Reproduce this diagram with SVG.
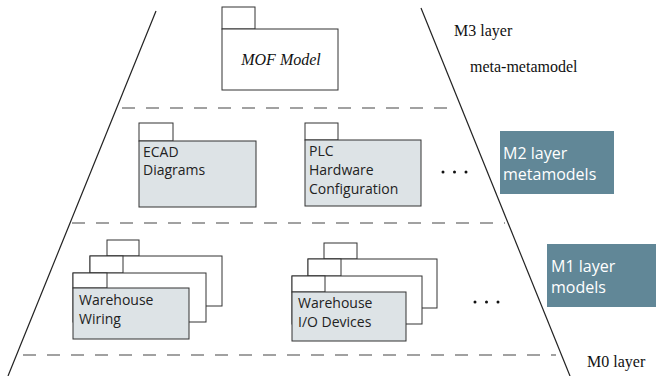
<svg xmlns="http://www.w3.org/2000/svg" width="656" height="376" viewBox="0 0 656 376">
<style>
.edge{stroke:#222;stroke-width:1.2;fill:none}
.dash{stroke:#444;stroke-width:1.2;stroke-dasharray:13 11;fill:none}
.pk{stroke:#333;stroke-width:1;fill:#fff}
.pg{stroke:#333;stroke-width:1;fill:#dde3e6}
.lbl{font-family:"Open Sans","Liberation Sans",sans-serif;font-size:14px;fill:#222}
.ser{font-family:"Liberation Serif","Times New Roman",serif;font-size:16px;fill:#111}
.tag{fill:#618797}
.tagt{font-family:"Open Sans","Liberation Sans",sans-serif;font-size:16px;fill:#fff}
.dot{fill:#111}
</style>
<rect width="656" height="376" fill="#fff"/>
<g id="connectors">
<line class="edge" x1="156" y1="11" x2="8" y2="376"/>
<line class="edge" x1="421" y1="8" x2="570" y2="376"/>
<line class="dash" x1="122" y1="108" x2="458" y2="108"/>
<line class="dash" x1="72" y1="223" x2="505" y2="223"/>
<line class="dash" x1="23" y1="355" x2="556" y2="355"/>
</g>
<g id="mof">
<rect class="pk" x="222" y="7" width="33" height="22"/>
<rect class="pk" x="222" y="29" width="116" height="61"/>
<text class="ser" x="281" y="65" text-anchor="middle" font-style="italic">MOF Model</text>
</g>
<g id="m3label">
<text class="ser" x="454" y="36">M3 layer</text>
<text class="ser" x="470" y="72">meta-metamodel</text>
</g>
<g id="ecad">
<rect class="pk" x="139" y="123" width="34" height="18"/>
<rect class="pg" x="139" y="141" width="117" height="66"/>
<text class="lbl" x="143" y="157">ECAD</text>
<text class="lbl" x="143" y="175">Diagrams</text>
</g>
<g id="plc">
<rect class="pk" x="305" y="123" width="33" height="17"/>
<rect class="pg" x="305" y="140" width="116" height="66"/>
<text class="lbl" x="309" y="156">PLC</text>
<text class="lbl" x="309" y="175">Hardware</text>
<text class="lbl" x="309" y="194">Configuration</text>
</g>
<g id="dots2">
<circle class="dot" cx="443" cy="172" r="1.5"/>
<circle class="dot" cx="454.5" cy="172" r="1.5"/>
<circle class="dot" cx="466" cy="172" r="1.5"/>
</g>
<g id="m2label">
<rect class="tag" x="500" y="131" width="114" height="63"/>
<text class="tagt" x="503" y="159">M2 layer</text>
<text class="tagt" x="503" y="180">metamodels</text>
</g>
<g id="wiring">
<rect class="pk" x="107" y="240" width="32" height="16"/>
<rect class="pk" x="90" y="256" width="132" height="50"/>
<rect class="pk" x="90" y="256" width="33" height="17"/>
<rect class="pk" x="73" y="273" width="133" height="49"/>
<rect class="pk" x="73" y="273" width="34" height="15"/>
<rect class="pg" x="73" y="288" width="116" height="51"/>
<text class="lbl" x="79" y="305">Warehouse</text>
<text class="lbl" x="79" y="324">Wiring</text>
</g>
<g id="iodevices">
<rect class="pk" x="324" y="243" width="33" height="16"/>
<rect class="pk" x="308" y="259" width="129" height="49"/>
<rect class="pk" x="308" y="259" width="33" height="17"/>
<rect class="pk" x="292" y="276" width="130" height="48"/>
<rect class="pk" x="292" y="276" width="33" height="16"/>
<rect class="pg" x="292" y="292" width="114" height="49"/>
<text class="lbl" x="298" y="308">Warehouse</text>
<text class="lbl" x="298" y="327">I/O Devices</text>
</g>
<g id="dots1">
<circle class="dot" cx="475" cy="302" r="1.5"/>
<circle class="dot" cx="486.5" cy="302" r="1.5"/>
<circle class="dot" cx="498" cy="302" r="1.5"/>
</g>
<g id="m1label">
<rect class="tag" x="547" y="244" width="109" height="63"/>
<text class="tagt" x="551" y="272">M1 layer</text>
<text class="tagt" x="551" y="293">models</text>
</g>
<g id="m0label">
<text class="ser" x="587" y="367">M0 layer</text>
</g>
</svg>
